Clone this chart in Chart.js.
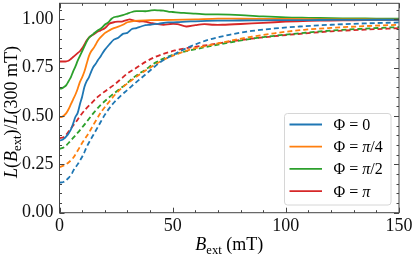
<!DOCTYPE html>
<html><head><meta charset="utf-8">
<script src="https://cdn.jsdelivr.net/npm/chart.js@4.4.0/dist/chart.umd.min.js"></script>
<style>html,body{margin:0;padding:0;background:#fff}</style>
</head><body>
<canvas id="c" width="415" height="259" style="width:415px;height:259px;display:block"></canvas>
<script>
// ---------------- data ----------------
const seriesLabels = ['Φ = 0', 'Φ = π/4', 'Φ = π/2', 'Φ = π'];

// solid curves (measured)
const bSolidPhi0 = [0,1,2,3,4,5,6,7,8,9,10,11,12,13,14,15,16,17,18,19,20,22,24,26,28,30,32,34,36,38,40,44,48,52,56,60,70,80,90,100,110,120,130,140,150];
const lSolidPhi0 = [0.374,0.376,0.383,0.395,0.41,0.43,0.46,0.495,0.515,0.56,0.60,0.65,0.68,0.70,0.73,0.755,0.77,0.79,0.805,0.825,0.842,0.87,0.895,0.905,0.925,0.93,0.95,0.955,0.963,0.97,0.972,0.978,0.984,0.985,0.988,0.99,0.993,0.994,0.995,0.996,0.996,0.997,0.997,0.998,0.998];

const bSolidPhiQ = [0,1,2,3,4,5,6,7,8,9,10,11,12,13,14,15,16,17,18,20,22,24,26,28,30,32,35,40,50,60,70,80,100,120,150];
const lSolidPhiQ = [0.494,0.496,0.503,0.515,0.535,0.56,0.585,0.61,0.64,0.675,0.70,0.73,0.77,0.81,0.835,0.85,0.87,0.89,0.905,0.929,0.943,0.955,0.962,0.972,0.985,0.99,0.993,0.996,0.997,1.0,1.004,1.003,1.002,1.0,0.999];

const bSolidPhiH = [0,1,2,3,4,5,6,7,8,9,10,11,12,13,14,15,16,17,18,19,20,21,22,23,24,26,28,30,32,34,36,38,40,42,44,46,48,50,55,60,65,70,80,90,100,110,120,130,140,150];
const lSolidPhiH = [0.641,0.643,0.65,0.66,0.68,0.70,0.73,0.755,0.785,0.81,0.835,0.86,0.885,0.905,0.915,0.925,0.935,0.943,0.95,0.96,0.972,0.98,0.99,1.003,1.011,1.016,1.022,1.03,1.038,1.042,1.043,1.042,1.045,1.048,1.046,1.045,1.04,1.038,1.033,1.03,1.026,1.026,1.022,1.015,1.01,1.008,1.006,1.005,1.004,1.004];

const bSolidPhiP = [0,2,3,4,5,6,7,8,9,10,11,12,13,14,15,16,17,18,19,20,21,22,24,26,28,30,31,33,35,37,39,41,43,46,49,52,56,60,64,68,72,80,90,100,110,120,130,140,150];
const lSolidPhiP = [0.782,0.782,0.783,0.786,0.795,0.805,0.815,0.825,0.835,0.85,0.87,0.89,0.905,0.915,0.922,0.93,0.937,0.942,0.948,0.954,0.965,0.978,0.985,0.988,0.99,0.997,1.0,0.993,0.989,0.99,0.985,0.98,0.976,0.972,0.976,0.975,0.963,0.97,0.975,0.972,0.972,0.976,0.982,0.988,0.992,0.994,0.995,0.996,0.997];

// dashed curves (measured)
const bDashPhi0 = [0,2,4,5.4,6,8,10.5,12,15,17.5,20,23,27.5,30,33.4,38,42,46,50,55,60,66,75,85,95,106,120,135,150];
const lDashPhi0 = [0.155,0.16,0.18,0.2,0.215,0.25,0.30,0.34,0.403,0.455,0.506,0.555,0.61,0.635,0.67,0.715,0.755,0.79,0.815,0.845,0.87,0.895,0.92,0.94,0.953,0.963,0.972,0.979,0.984];

const bDashPhiQ = [0,2,4,6,8,10,12.9,15,18.6,21,24.5,28,31.9,36,40,45,51,58,66,75,85,95,108,120,135,150];
const lDashPhiQ = [0.236,0.245,0.26,0.283,0.32,0.36,0.412,0.455,0.524,0.56,0.61,0.65,0.685,0.72,0.75,0.785,0.816,0.845,0.865,0.888,0.91,0.928,0.946,0.956,0.965,0.972];

const bDashPhiH = [0,2,4.6,7,9.8,12,15,18,21.6,26,29,33.4,38,42.2,51,58,66,75,85,95,108,120,135,150];
const lDashPhiH = [0.33,0.338,0.368,0.40,0.438,0.47,0.515,0.555,0.593,0.635,0.661,0.705,0.74,0.775,0.82,0.84,0.86,0.88,0.90,0.915,0.93,0.942,0.952,0.96];

const bDashPhiP = [0,2,4.6,7,9,11.5,14.2,17,20,24.5,27.5,30,33.4,38,42.2,51,58,66,75,85,95,108,120,135,150];
const lDashPhiP = [0.386,0.392,0.429,0.465,0.498,0.535,0.567,0.60,0.627,0.665,0.695,0.72,0.745,0.78,0.805,0.839,0.855,0.868,0.885,0.90,0.913,0.927,0.938,0.947,0.954];

const xTickValues = [0, 50, 100, 150];
const yTickValues = [0, 0.25, 0.5, 0.75, 1.0];

// ---------------- styling ----------------
const colors = ['#1f77b4', '#ff7f0e', '#2ca02c', '#d62728'];
const FAMILY = '"Liberation Serif", "DejaVu Serif", serif';

function pts(xs, ys) { return xs.map((v, i) => ({x: v, y: ys[i]})); }

const solids = [[bSolidPhi0,lSolidPhi0],[bSolidPhiQ,lSolidPhiQ],[bSolidPhiH,lSolidPhiH],[bSolidPhiP,lSolidPhiP]];
const dashes = [[bDashPhi0,lDashPhi0],[bDashPhiQ,lDashPhiQ],[bDashPhiH,lDashPhiH],[bDashPhiP,lDashPhiP]];

const datasets = [];
solids.forEach((s, i) => datasets.push({
  label: seriesLabels[i], data: pts(s[0], s[1]), borderColor: colors[i], borderWidth: 1.8,
  pointRadius: 0, tension: 0.25, fill: false, legendEntry: true
}));
dashes.forEach((s, i) => datasets.push({
  label: seriesLabels[i] + ' (dashed)', data: pts(s[0], s[1]), borderColor: colors[i], borderWidth: 1.8,
  borderDash: [5, 3], pointRadius: 0, cubicInterpolationMode: 'monotone', fill: false, legendEntry: false
}));

function drawRich(ctx, segs, size) {
  let w = 0;
  const measure = [];
  segs.forEach(sg => {
    const fs = sg.sub ? size * 0.7 : size;
    ctx.font = (sg.i ? 'italic ' : '') + fs + 'px ' + FAMILY;
    const mw = ctx.measureText(sg.t).width;
    measure.push({sg, fs, mw});
    w += mw;
  });
  return {w, measure};
}
function paintRich(ctx, segs, size, x, y, align) {
  const {w, measure} = drawRich(ctx, segs, size);
  let cx = align === 'center' ? x - w / 2 : x;
  ctx.textBaseline = 'alphabetic';
  ctx.textAlign = 'left';
  measure.forEach(m => {
    ctx.font = (m.sg.i ? 'italic ' : '') + m.fs + 'px ' + FAMILY;
    ctx.fillText(m.sg.t, cx, y + (m.sg.sub ? size * 0.22 : 0));
    cx += m.mw;
  });
}

const decor = {
  id: 'decor',
  afterDatasetsDraw(chart) {
    const {ctx, chartArea: a, scales: {x, y}} = chart;
    ctx.save();
    ctx.strokeStyle = '#444';
    ctx.lineWidth = 1;
    ctx.strokeRect(a.left, a.top, a.right - a.left, a.bottom - a.top);
    ctx.beginPath();
    for (let v = 0; v <= 150 + 1e-9; v += 10) {
      const px = Math.round(x.getPixelForValue(v)) + 0.5;
      const len = (Math.abs(v % 50) < 1e-9) ? 5 : 2.5;
      ctx.moveTo(px, a.bottom); ctx.lineTo(px, a.bottom - len);
      ctx.moveTo(px, a.top); ctx.lineTo(px, a.top + len);
    }
    for (let i = 0; i * 0.05 <= y.max + 1e-9; i++) {
      const v = i * 0.05;
      const py = Math.round(y.getPixelForValue(v)) + 0.5;
      const len = (i % 5 === 0) ? 5 : 2.5;
      ctx.moveTo(a.left, py); ctx.lineTo(a.left + len, py);
      ctx.moveTo(a.right, py); ctx.lineTo(a.right - len, py);
    }
    ctx.stroke();
    ctx.restore();
  },
  afterDraw(chart) {
    const {ctx, chartArea: a} = chart;
    ctx.save();
    ctx.fillStyle = '#000';
    // x title
    paintRich(ctx, [{t:'B', i:1}, {t:'ext', sub:1}, {t:' (mT)'}], 18, (a.left + a.right) / 2, 250, 'center');
    // y title
    ctx.save();
    ctx.translate(17, (a.top + a.bottom) / 2 + 4);
    ctx.rotate(-Math.PI / 2);
    paintRich(ctx, [{t:'L', i:1}, {t:'('}, {t:'B', i:1}, {t:'ext', sub:1}, {t:')/'}, {t:'L', i:1}, {t:'(300 mT)'}], 18, 0, 0, 'center');
    ctx.restore();
    // legend
    const lx = 284.5, ly = 113.5, lw = 106.5, lh = 91.5, r = 3;
    ctx.beginPath();
    ctx.moveTo(lx + r, ly); ctx.lineTo(lx + lw - r, ly); ctx.arcTo(lx + lw, ly, lx + lw, ly + r, r);
    ctx.lineTo(lx + lw, ly + lh - r); ctx.arcTo(lx + lw, ly + lh, lx + lw - r, ly + lh, r);
    ctx.lineTo(lx + r, ly + lh); ctx.arcTo(lx, ly + lh, lx, ly + lh - r, r);
    ctx.lineTo(lx, ly + r); ctx.arcTo(lx, ly, lx + r, ly, r);
    ctx.closePath();
    ctx.fillStyle = 'rgba(255,255,255,0.85)';
    ctx.fill();
    ctx.strokeStyle = '#d6d6d6';
    ctx.lineWidth = 1;
    ctx.stroke();
    const entries = chart.data.datasets.filter(d => d.legendEntry);
    entries.forEach((d, i) => {
      const cy = 124.5 + i * 22.2;
      ctx.strokeStyle = d.borderColor;
      ctx.lineWidth = 1.8;
      ctx.beginPath(); ctx.moveTo(289.5, cy); ctx.lineTo(322, cy); ctx.stroke();
      ctx.fillStyle = '#000';
      const parts = d.label.split(' = ');
      const segs = [{t: parts[0] + ' = '}];
      parts[1].split('').forEach(ch => segs.push({t: ch, i: ch === 'π' ? 1 : 0}));
      paintRich(ctx, segs, 16, 333.5, cy + 5.5, 'left');
    });
    ctx.restore();
  }
};

new Chart(document.getElementById('c'), {
  type: 'line',
  data: {datasets},
  options: {
    responsive: false,
    devicePixelRatio: 1,
    animation: false,
    layout: {padding: {left: 0, right: 16, top: 3.3, bottom: 0}},
    plugins: {legend: {display: false}, tooltip: {enabled: false}},
    scales: {
      x: {
        type: 'linear', min: 0, max: 150,
        grid: {display: false, drawTicks: false},
        border: {display: false},
        afterBuildTicks: s => { s.ticks = xTickValues.map(v => ({value: v})); },
        ticks: {font: {family: FAMILY, size: 18}, color: '#111', padding: 3, maxRotation: 0,
                callback: v => String(v)},
        afterFit: s => { s.height = 46.3; s.paddingLeft = 0; s.paddingRight = 0; }
      },
      y: {
        type: 'linear', min: 0, max: 1.083,
        grid: {display: false, drawTicks: false},
        border: {display: false},
        afterBuildTicks: s => { s.ticks = yTickValues.map(v => ({value: v})); },
        ticks: {font: {family: FAMILY, size: 18}, color: '#111', padding: 6,
                callback: v => Number(v).toFixed(2)},
        afterFit: s => { s.width = 59.5; s.paddingTop = 0; s.paddingBottom = 0; }
      }
    }
  },
  plugins: [decor]
});
</script>
</body></html>
